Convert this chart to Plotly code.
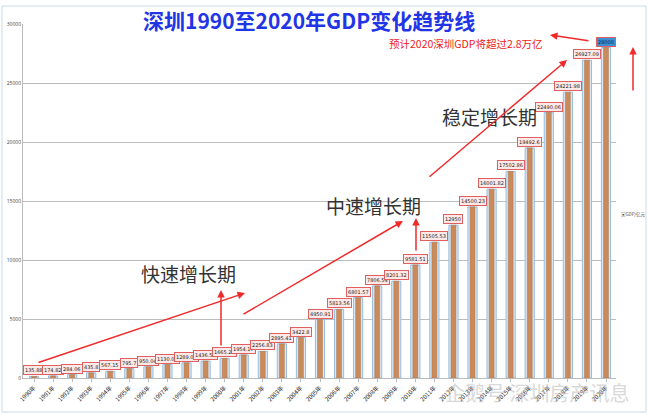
import plotly.graph_objects as go

years = [str(y) + "年" for y in range(1990, 2021)]
gdp = [135.88, 174.82, 284.06, 435.8, 567.15, 795.7, 950.04, 1130.01, 1289.02, 1436.51,
       1665.24, 1954.17, 2256.83, 2895.41, 3422.8, 4950.91, 5813.56, 6801.57, 7806.54, 8201.32,
       9581.51, 11505.53, 12950, 14500.23, 16001.82, 17502.86, 19492.6, 22490.06, 24221.98, 26927.09,
       28000]
y_ticks = [0, 5000, 10000, 15000, 20000, 25000, 30000]

title_text = "深圳1990至2020年GDP变化趋势线"
note_text = "预计2020深圳GDP将超过2.8万亿"
phase_texts = ["快速增长期", "中速增长期", "稳定增长期"]
legend_text = "▣GDP/亿元"
watermark = "企鹅号 深圳房产讯息"

CJK = "Noto Sans CJK SC"
W, H = 648, 414
ML, MR, MT, MB = 23, 32, 24, 36
PW, PH = W - ML - MR, H - MT - MB

def px(x):
    return (x - ML) / PW

def py(y):
    return (H - MB - y) / PH

def fmt(v):
    return f"{v:.2f}".rstrip("0").rstrip(".")

fig = go.Figure()
fig.add_trace(go.Bar(x=years, y=gdp, width=0.48,
                     marker=dict(color="#dbe9f6", line=dict(color="#93bde0", width=1)),
                     hoverinfo="skip", showlegend=False))
fig.add_trace(go.Bar(x=years, y=gdp, width=0.26,
                     marker=dict(color="#c98a5c", line=dict(color="#b87545", width=0.5)),
                     showlegend=False))

ann = []
for i, (yr, v) in enumerate(zip(years, gdp)):
    last = i == len(gdp) - 1
    ann.append(dict(x=yr, y=v, xref="x", yref="y", text=fmt(v), showarrow=False,
                    yanchor="bottom", yshift=1,
                    font=dict(size=5, color="#222" if not last else "#0a2a50", family="DejaVu Sans"),
                    bgcolor="#fde9e7" if not last else "#3d8fd3",
                    bordercolor="#e06060", borderwidth=1, borderpad=1))

def ptext(x, y, text, xanchor="center", **kw):
    ann.append(dict(x=px(x), y=py(y), xref="paper", yref="paper", text=text,
                    xanchor=xanchor, yanchor="middle", showarrow=False, **kw))

ptext(309, 20, f"<b>{title_text}</b>", font=dict(size=21, color="#1f35e6", family=CJK))
ptext(466, 43, note_text, font=dict(size=10.5, color="#ee2020", family=CJK))
ptext(188, 273, phase_texts[0], font=dict(size=19, color="#333", family=CJK))
ptext(373, 205, phase_texts[1], font=dict(size=19, color="#333", family=CJK))
ptext(489, 117, phase_texts[2], font=dict(size=19, color="#333", family=CJK))
ptext(619, 214, legend_text, xanchor="left", font=dict(size=4.5, color="#444", family=CJK))
ptext(537, 392, watermark, opacity=0.55, font=dict(size=20, color="#bbbbbb", family=CJK))

# red arrows (pixel coords: tail -> head)
arrows = [((37, 363), (245, 293)),
          ((221, 347), (221, 290)),
          ((242, 315), (403, 221)),
          ((416, 252), (416, 218)),
          ((428, 178), (567, 60)),
          ((633, 92), (633, 47)),
          ((590, 41), (550, 35))]
for (x0, y0), (x1, y1) in arrows:
    ann.append(dict(x=px(x1), y=py(y1), xref="paper", yref="paper",
                    ax=x0 - x1, ay=y0 - y1, axref="pixel", ayref="pixel",
                    text="", showarrow=True,
                    arrowhead=2, arrowsize=1, arrowwidth=1.5, arrowcolor="#f02a2a"))

fig.update_layout(
    width=W, height=H,
    margin=dict(l=ML, r=MR, t=MT, b=MB, autoexpand=False),
    paper_bgcolor="white", plot_bgcolor="white",
    barmode="overlay", bargap=0.5,
    annotations=ann,
    xaxis=dict(type="category", tickangle=-45, tickfont=dict(size=6, color="#222", family=CJK),
               showline=True, linecolor="#bbbbbb", ticks="outside", ticklen=3, tickcolor="#bbbbbb",
               automargin=False, showgrid=False),
    yaxis=dict(range=[0, 30000], tickvals=y_ticks, tickformat="d", tickfont=dict(size=5, color="#444"),
               showgrid=True, gridcolor="#bdbdbd", gridwidth=1, showline=True, linecolor="#bbbbbb",
               zeroline=False, automargin=False),
    shapes=[dict(type="rect", xref="paper", yref="paper", x0=px(2), x1=px(W - 2), y0=py(H - 2), y1=py(6),
                 line=dict(color="#c9dbe9", width=1))],
)

fig.write_html("out.html", config={"displayModeBar": False},
               post_script="document.body.style.margin='0';")
